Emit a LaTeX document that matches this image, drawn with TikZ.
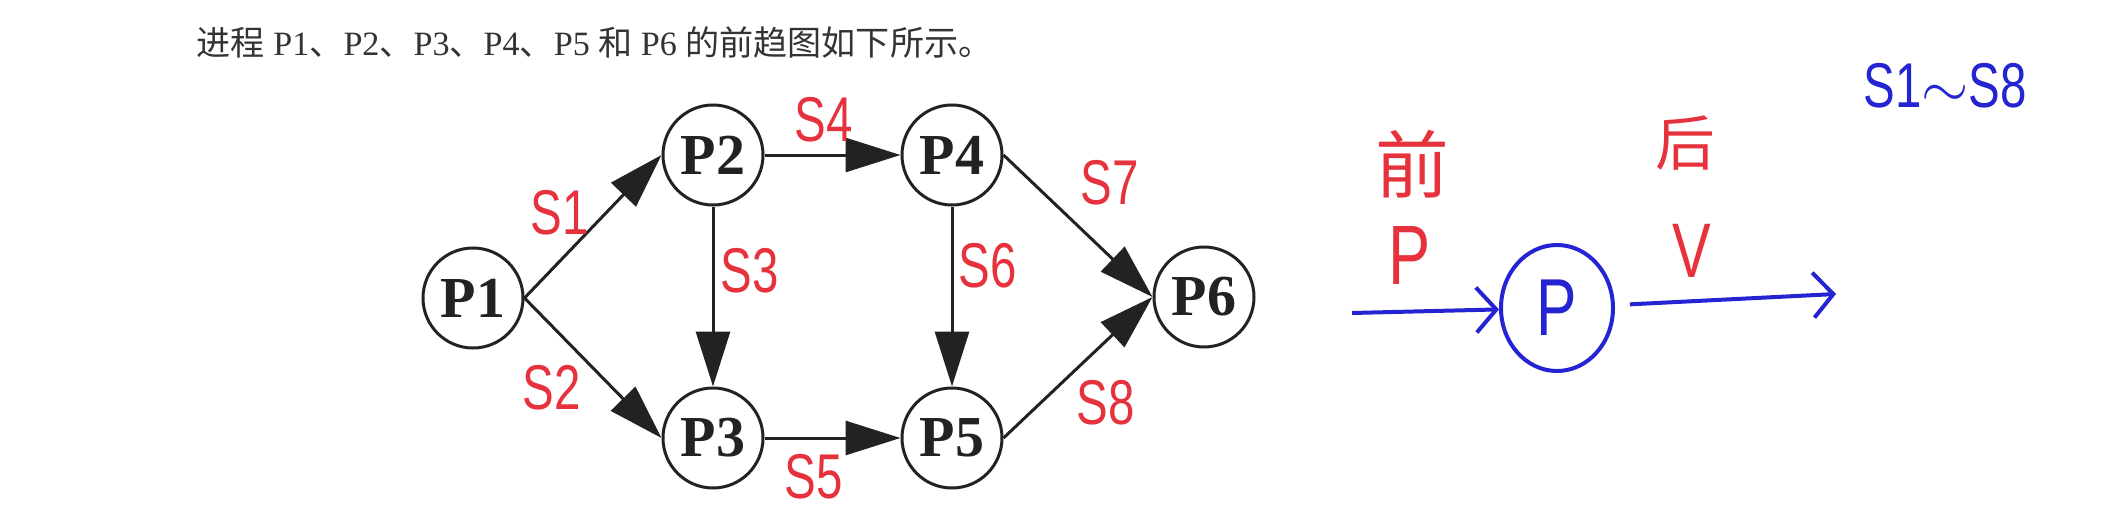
\documentclass[tikz,border=0pt]{standalone}
\usepackage{fontspec}
\setmainfont{Liberation Serif}
\newfontfamily\cjk{Noto Sans CJK SC}
\newfontfamily\hand[FakeStretch=0.75]{Liberation Sans}
\usetikzlibrary{arrows.meta,positioning,shapes.geometric}
\definecolor{ink}{HTML}{222222}
\definecolor{textgrey}{HTML}{333333}
\definecolor{penred}{HTML}{E6323C}
\definecolor{penblue}{HTML}{2424D2}
\tikzset{
  pcircle/.style={draw=ink, circle, line width=0.3mm, minimum size=10mm, inner sep=0pt, text=ink, font=\fontsize{16.5}{16.5}\selectfont\bfseries},
  parrow/.style={-{Triangle[length=5.5mm,width=3.4mm]}, line width=0.3mm, ink},
  slabel/.style={text=penred, inner sep=1pt, font=\hand\fontsize{18}{18}\selectfont},
  penlabel/.style={inner sep=1pt, font=\hand\fontsize{22}{22}\selectfont},
  pencircle/.style={draw=penblue, ellipse, line width=0.4mm, minimum width=11.2mm, minimum height=12.6mm, inner sep=0pt, text=penblue, font=\hand\fontsize{23}{23}\selectfont},
  penarrow/.style={-{Straight Barb[length=2mm,width=4.5mm]}, line width=0.4mm, penblue},
}
\begin{document}
\begin{tikzpicture}
  \useasboundingbox (0,0) rectangle (21.09,-5.08);
  % heading
  \node[anchor=base west, inner sep=0pt, text=textgrey, font=\fontsize{9.7}{11}\selectfont] (title) at (1.96,-0.56) {{\cjk 进程} P1{\cjk 、}P2{\cjk 、}P3{\cjk 、}P4{\cjk 、}P5 {\cjk 和} P6 {\cjk 的前趋图如下所示。}};
  % precedence graph
  \node[pcircle] (p1) at (4.73,-2.98) {P1};
  \node[pcircle] (p2) at (7.13,-1.55) {P2};
  \node[pcircle, below=1.80cm of p2] (p3) {P3};
  \node[pcircle, right=1.36cm of p2] (p4) {P4};
  \node[pcircle, right=1.36cm of p3] (p5) {P5};
  \node[pcircle] (p6) at (12.04,-2.97) {P6};
  \draw[parrow] (p1.east) -- (p2.west);
  \draw[parrow] (p1.east) -- (p3.west);
  \draw[parrow] (p2.east) -- (p4.west);
  \draw[parrow] (p2.south) -- (p3.north);
  \draw[parrow] (p3.east) -- (p5.west);
  \draw[parrow] (p4.south) -- (p5.north);
  \draw[parrow] (p4.east) -- (p6.west);
  \draw[parrow] (p5.east) -- (p6.west);
  % handwritten edge names
  \node[slabel] (s1) at (5.60,-2.13) {S1};
  \node[slabel] (s2) at (5.52,-3.88) {S2};
  \node[slabel] (s3) at (7.50,-2.71) {S3};
  \node[slabel] (s4) at (8.24,-1.20) {S4};
  \node[slabel] (s5) at (8.14,-4.77) {S5};
  \node[slabel] (s6) at (9.88,-2.66) {S6};
  \node[slabel] (s7) at (11.10,-1.83) {S7};
  \node[slabel] (s8) at (11.06,-4.03) {S8};
  % note on the right
  \node[pencircle] (p) at (15.57,-3.08) {P};
  \coordinate (pin) at (13.52,-3.13);
  \coordinate (pout) at (18.36,-2.94);
  \draw[penarrow] (pin) -- (p);
  \draw[penarrow, shorten <=1.5mm] (p) -- (pout);
  \node[penlabel, text=penred, font=\cjk\fontsize{21}{21}\selectfont] (qian) at (14.12,-1.64) {前};
  \node[penlabel, text=penred, font=\hand\fontsize{24}{24}\selectfont] (pred) at (14.10,-2.55) {P};
  \node[penlabel, text=penred, font=\cjk\fontsize{17}{17}\selectfont] (hou) at (16.85,-1.43) {后};
  \node[penlabel, text=penred] (v) at (16.92,-2.51) {V};
  \node[penlabel, text=penblue, font=\hand\fontsize{18}{18}\selectfont] (range) at (19.45,-0.86) {S1$\sim$S8};
\end{tikzpicture}
\end{document}
